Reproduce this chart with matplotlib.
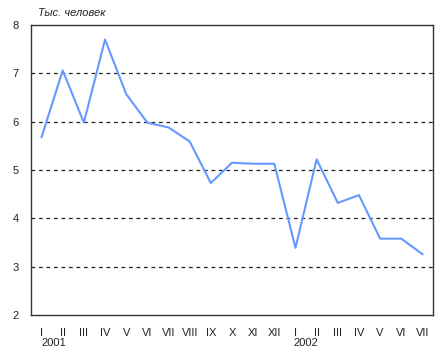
import matplotlib
matplotlib.use("Agg")
import matplotlib.pyplot as plt

plt.rcParams['font.family'] = ['Liberation Sans', 'DejaVu Sans']

months = ["I", "II", "III", "IV", "V", "VI", "VII", "VIII", "IX", "X", "XI", "XII",
          "I", "II", "III", "IV", "V", "VI", "VII"]
values = [5.68, 7.06, 5.98, 7.70, 6.57, 5.98, 5.88, 5.59, 4.73, 5.15, 5.13, 5.13,
          3.39, 5.22, 4.32, 4.48, 3.58, 3.58, 3.26]
years = ["2001", "2002"]
year_pos = [0.6, 12.5]

fig = plt.figure(figsize=(4.48, 3.57), dpi=100)
ax = fig.add_axes([31 / 448, 1 - 315 / 357, 402 / 448, 290 / 357])

x = list(range(len(values)))
ax.plot(x, values, color="#6699ff", linewidth=1.5)

ax.set_xlim(-0.5, len(values) - 0.5)
ax.set_ylim(2, 8)
ax.set_yticks(range(2, 9))
ax.set_xticks(x)
ax.set_xticklabels(months)
ax.tick_params(axis="both", length=0, labelsize=8, colors="#222222")
ax.tick_params(axis="x", pad=9)
ax.tick_params(axis="y", pad=9)

for yv in range(3, 8):
    ax.axhline(yv, color="#222222", linestyle=(0, (3, 3)), linewidth=0.9, zorder=0)

for s in ax.spines.values():
    s.set_color("#333333")
    s.set_linewidth(1.0)

for yr, p in zip(years, year_pos):
    ax.text(p, -0.078, yr, transform=ax.get_xaxis_transform(), ha="center", va="top",
            fontsize=8, color="#222222")

fig.text(38 / 448, 1 - 13 / 357, "Тыс. человек", fontsize=8, style="italic",
         va="center", ha="left", color="#222222")

fig.savefig("out.png", dpi=100)
